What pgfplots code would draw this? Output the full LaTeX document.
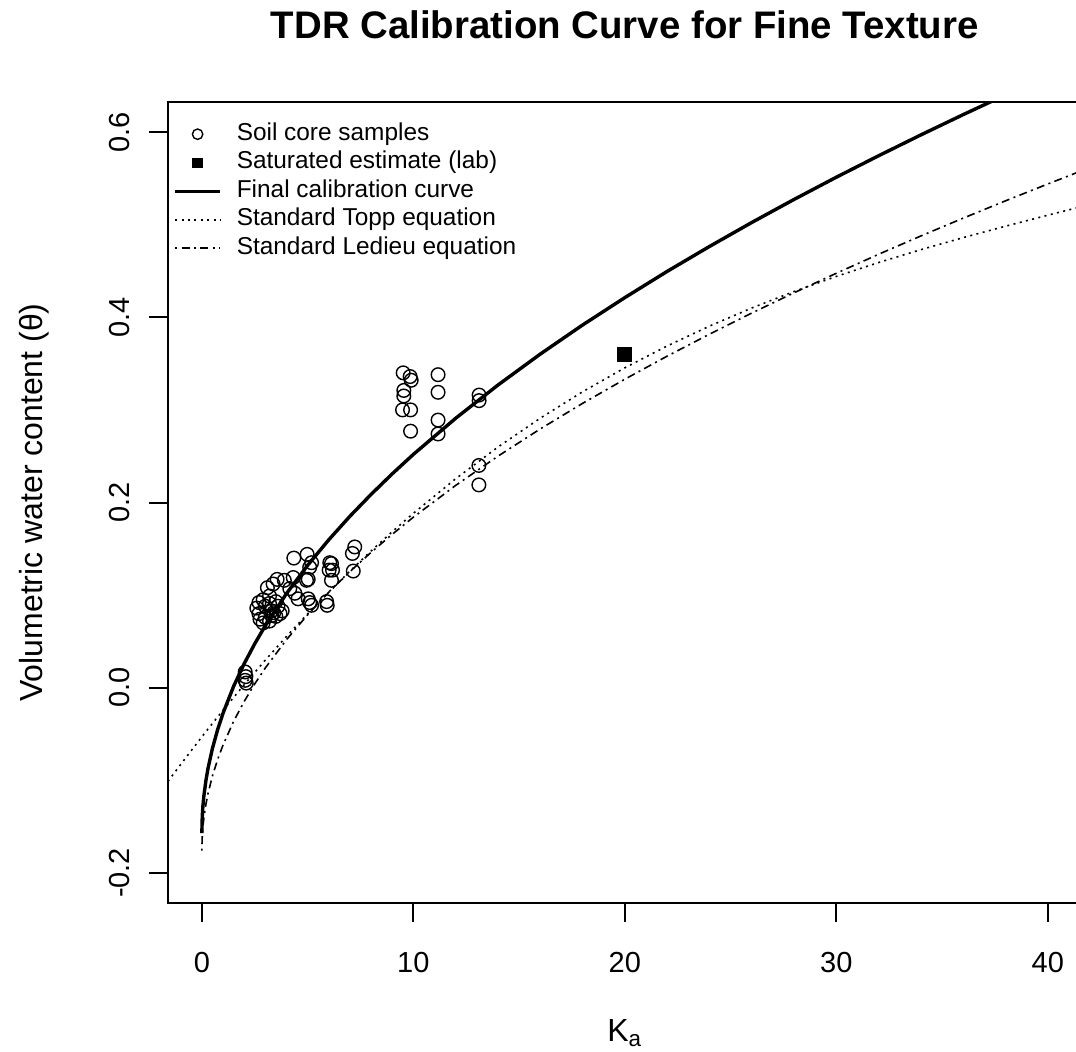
\documentclass[border=0pt]{standalone}
\usepackage{fontspec}
\setmainfont{Liberation Sans}
\usepackage{pgfplots}
\pgfplotsset{compat=1.18}

% Soil core samples (apparent permittivity Ka, volumetric water content)
\pgfplotstableread{
ka    theta
2.05  0.017
2.08  0.012
2.05  0.008
2.10  0.005
2.60  0.086
2.70  0.080
2.75  0.074
2.70  0.092
2.90  0.095
3.10  0.108
3.20  0.091
3.30  0.083
3.40  0.081
3.60  0.088
3.20  0.072
2.90  0.070
3.50  0.077
3.80  0.083
3.50  0.093
3.00  0.076
3.30  0.078
3.70  0.080
3.00  0.088
3.37  0.112
3.56  0.117
3.90  0.116
3.20  0.099
4.16  0.107
4.32  0.119
4.35  0.140
4.40  0.102
4.55  0.096
4.95  0.116
5.03  0.117
4.98  0.144
5.19  0.135
5.10  0.130
5.03  0.096
5.10  0.092
5.19  0.089
6.05  0.135
6.13  0.134
6.02  0.127
6.18  0.127
6.13  0.116
5.93  0.089
5.90  0.093
7.23  0.152
7.12  0.145
7.16  0.126
9.52  0.340
9.85  0.336
9.90  0.332
9.55  0.321
9.55  0.315
9.49  0.300
9.87  0.300
9.87  0.277
11.17 0.338
11.17 0.319
11.17 0.289
11.17 0.274
13.11 0.316
13.11 0.310
13.10 0.240
13.10 0.219
}\samples

% Fitted calibration curve
\pgfplotstableread{
ka    theta
0     -0.1570
0.02  -0.1387
0.05  -0.1281
0.1   -0.1161
0.2   -0.0992
0.3   -0.0862
0.5   -0.0656
0.75  -0.0450
1     -0.0277
1.5    0.0014
2      0.0259
2.5    0.0474
3      0.0670
4      0.1016
5      0.1321
6      0.1597
7      0.1851
8      0.2087
9      0.2309
10     0.2519
12     0.2909
14     0.3268
16     0.3602
18     0.3916
20     0.4212
22     0.4495
24     0.4764
26     0.5023
28     0.5272
30     0.5512
32     0.5744
34     0.5969
36     0.6188
38     0.6401
}\finalcurve

% Topp et al. (1980) polynomial
\pgfplotstableread{
ka    theta
-1.6  -0.1011
-1    -0.0828
0     -0.0530
1     -0.0243
2      0.0032
3      0.0298
4      0.0553
5      0.0798
6      0.1033
7      0.1259
8      0.1476
9      0.1684
10     0.1883
12     0.2256
14     0.2598
16     0.2910
18     0.3195
20     0.3454
22     0.3690
24     0.3904
26     0.4100
28     0.4278
30     0.4441
32     0.4591
34     0.4730
36     0.4860
38     0.4983
40     0.5102
41.6   0.5195
}\topp

% Ledieu et al. (1986) square-root relation
\pgfplotstableread{
ka    theta
0     -0.1758
0.02  -0.1597
0.05  -0.1504
0.1   -0.1398
0.2   -0.1249
0.3   -0.1135
0.5   -0.0953
0.75  -0.0773
1     -0.0620
1.5   -0.0364
2     -0.0149
2.5    0.0041
3      0.0213
4      0.0518
5      0.0787
6      0.1030
7      0.1253
8      0.1461
9      0.1656
10     0.1841
12     0.2184
14     0.2500
16     0.2794
18     0.3070
20     0.3331
22     0.3580
24     0.3817
26     0.4045
28     0.4264
30     0.4475
32     0.4680
34     0.4878
36     0.5070
38     0.5257
40     0.5439
41.6   0.5582
}\ledieu

\begin{document}
\begin{tikzpicture}
\useasboundingbox (0,0) rectangle (538pt,525.5pt);
\begin{axis}[
  at={(84pt,74.2pt)}, anchor=south west,
  scale only axis, width=456.8pt, height=400.1pt,
  xmin=-1.6, xmax=41.6, ymin=-0.232, ymax=0.632,
  axis line style={line width=1pt},
  tick pos=left, tick align=outside, major tick length=9.5pt,
  tick style={line width=1pt, black},
  xtick={0,10,20,30,40}, xticklabels={0,10,20,30,40},
  ytick={-0.2,0,0.2,0.4,0.6}, yticklabels={-0.2,0.0,0.2,0.4,0.6},
  tick label style={font=\fontsize{14.5}{17}\selectfont},
  xticklabel style={anchor=base}, xticklabel shift=25.2pt,
  yticklabel style={rotate=90, anchor=base}, yticklabel shift=9.6pt,
  xlabel={K\textsubscript{a}},
  xlabel style={at={(axis description cs:0.5,-0.173)}, anchor=base, font=\fontsize{16}{19}\selectfont},
  ylabel={Volumetric water content (θ)},
  ylabel style={at={(axis description cs:-0.1467,0.5)}, anchor=center, font=\fontsize{16}{19}\selectfont},
  title={TDR Calibration Curve for Fine Texture},
  title style={at={(axis description cs:0.5,1.0643)}, anchor=base, font=\fontsize{19.2}{23}\selectfont\bfseries},
  legend cell align=left,
  legend style={at={(axis description cs:0,1)}, anchor=north west,
    draw=none, fill=none,
    inner xsep=2.5pt, inner ysep=10pt,
    font=\fontsize{12.2}{14}\selectfont,
    row sep=2.85pt, column sep=7.5pt,
    nodes={inner sep=0pt, text height=8.7pt, text depth=2.7pt}},
]
\addplot[only marks, mark=o, mark size=3.4pt, line width=0.7pt, black,
  legend image code/.code={\draw[black, line width=0.7pt] plot[mark=o, mark size=2.6pt] coordinates {(11.25pt,0pt)};}]
  table[x=ka, y=theta] {\samples};
\addlegendentry{Soil core samples}
\addplot[only marks, mark=square*, mark size=3.5pt, black,
  legend image code/.code={\draw[black, fill=black] plot[mark=square*, mark size=2.4pt] coordinates {(11.25pt,0pt)};}]
  coordinates {(20,0.36)};
\addlegendentry{Saturated estimate (lab)}
\addplot[black, line width=1.7pt, no marks,
  legend image code/.code={\draw[black, line width=1.7pt] (0pt,0pt) -- (22.5pt,0pt);}]
  table[x=ka, y=theta] {\finalcurve};
\addlegendentry{Final calibration curve}
\addplot[black, line width=0.8pt, no marks, dash pattern=on 1pt off 2.2pt,
  legend image code/.code={\draw[black, line width=0.8pt, dash pattern=on 1pt off 2.2pt] (0pt,0pt) -- (22.5pt,0pt);}]
  table[x=ka, y=theta] {\topp};
\addlegendentry{Standard Topp equation}
\addplot[black, line width=0.8pt, no marks, dash pattern=on 1pt off 2.2pt on 4pt off 2.2pt,
  legend image code/.code={\draw[black, line width=0.8pt, dash pattern=on 1pt off 2.2pt on 4pt off 2.2pt] (0pt,0pt) -- (22.5pt,0pt);}]
  table[x=ka, y=theta] {\ledieu};
\addlegendentry{Standard Ledieu equation}
\end{axis}
\end{tikzpicture}
\end{document}
